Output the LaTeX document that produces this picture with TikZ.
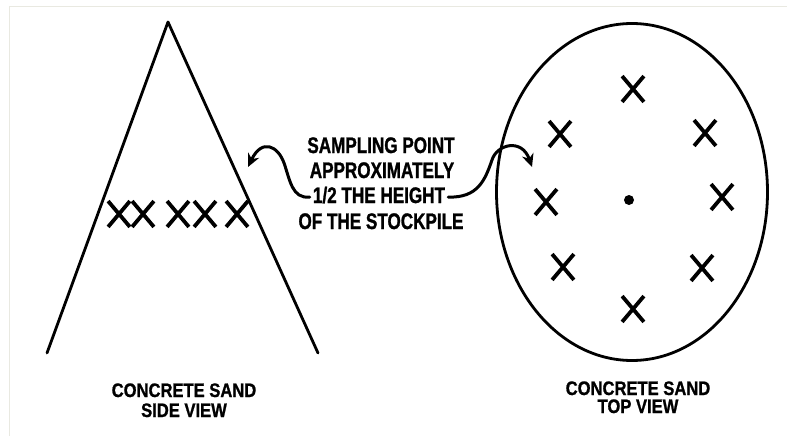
\documentclass[tikz,border=0pt]{standalone}
\usepackage{fontspec}
\newfontfamily\labfont[FakeStretch=0.76,FakeBold=1.2]{Liberation Sans}
\newfontfamily\botfont[FakeStretch=0.85,FakeBold=1.0]{Liberation Sans}
\usetikzlibrary{shapes.misc,shapes.geometric,arrows.meta}
\definecolor{framegrey}{HTML}{E9E9E1}
\tikzset{
  outline/.style={line width=2.8pt, line join=round, line cap=round},
  xmk/.style={cross out, draw, line width=3.8pt, minimum width=18pt, minimum height=22pt, inner sep=0pt},
  midtext/.style={font=\labfont\bfseries\fontsize{22.5}{25}\selectfont, inner sep=0pt, anchor=base},
  bottext/.style={font=\botfont\bfseries\fontsize{19.5}{22}\selectfont, inner sep=0pt, anchor=base},
  curvearrow/.style={line width=3pt, line cap=round, -{Stealth[length=13pt,width=12pt]}},
}
\begin{document}
\begin{tikzpicture}[x=1pt,y=-1pt]
\useasboundingbox (0,0) rectangle (787,436);
% faint frame
\draw[framegrey, line width=1pt] (9,436) -- (9,7) -- (787,7);
% side view triangle
\coordinate (apex) at (168,22);
\coordinate (bl) at (47,353);
\coordinate (br) at (318,353);
\draw[outline] (bl) -- (apex) -- (br);
% side view sampling marks
\node[xmk] (s1) at (119,214) {};
\node[xmk] (s2) at (143,214) {};
\node[xmk] (s3) at (178,214) {};
\node[xmk] (s4) at (205,214) {};
\node[xmk] (s5) at (237,214) {};
% top view ellipse
\node[ellipse, draw, line width=2.8pt, minimum width=271pt, minimum height=337pt, inner sep=0pt] (top) at (632,192) {};
\node[circle, fill, minimum size=10pt, inner sep=0pt] (centre) at (629,200) {};
\node[xmk] (t1) at (633,89) {};
\node[xmk] (t2) at (560,134) {};
\node[xmk] (t3) at (705,133) {};
\node[xmk] (t4) at (546,202) {};
\node[xmk] (t5) at (722,197) {};
\node[xmk] (t6) at (563,267) {};
\node[xmk] (t7) at (702,268) {};
\node[xmk] (t8) at (633,309) {};
% middle text
\node[midtext] (m1) at (381,153) {SAMPLING POINT};
\node[midtext] (m2) at (382,178) {APPROXIMATELY};
\node[midtext] (m3) at (379,203) {1/2 THE HEIGHT};
\node[midtext] (m4) at (381,229) {OF THE STOCKPILE};
% arrows
\coordinate (lt) at (248,167);
\coordinate (rt) at (532,167);
\draw[curvearrow] ([xshift=-3pt,yshift=-2pt]m3.west) .. controls (292,199) and (290,180) .. (284,163) .. controls (278,146) and (262,138) .. (lt);
\draw[curvearrow] ([xshift=3pt,yshift=-2pt]m3.east) .. controls (478,198) and (485,180) .. (492,160) .. controls (497,144) and (522,138) .. (rt);
% bottom labels
\node[bottext] (l1) at (184,397) {CONCRETE SAND};
\node[bottext] (l2) at (184,417) {SIDE VIEW};
\node[bottext] (r1) at (638,395) {CONCRETE SAND};
\node[bottext] (r2) at (638,413) {TOP VIEW};
\end{tikzpicture}
\end{document}
